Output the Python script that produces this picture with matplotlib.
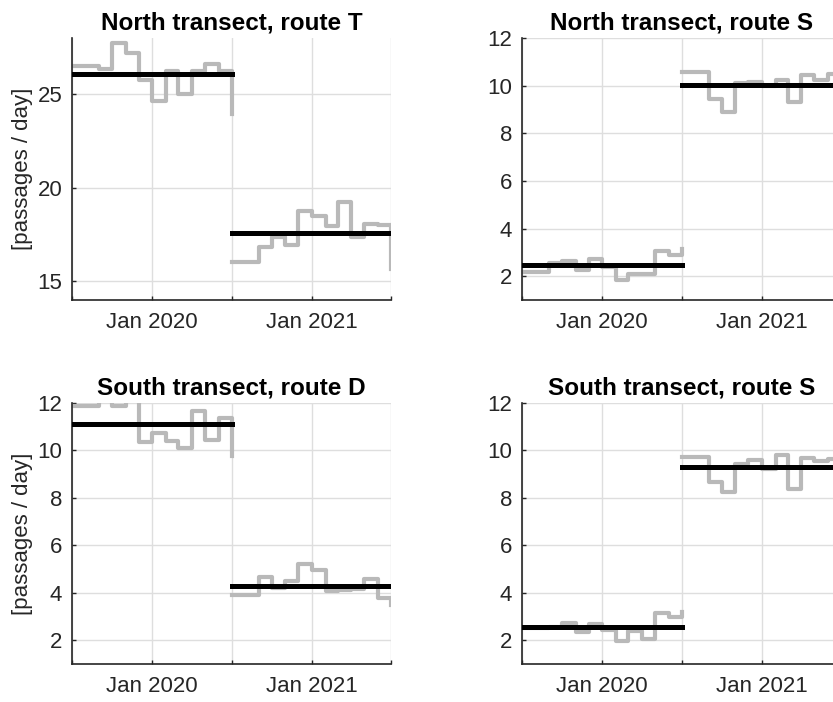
import numpy as np
import matplotlib

matplotlib.use("Agg")
import matplotlib.pyplot as plt
import matplotlib.dates as mdates

plt.rcParams["font.family"] = ["Liberation Sans", "DejaVu Sans"]

# monthly passage rates, Jul 2019 .. Jul 2020 and Jul 2020 .. Jul 2021
months_before = np.arange("2019-07", "2020-08", dtype="datetime64[M]")
months_after = np.arange("2020-07", "2021-08", dtype="datetime64[M]")

north_t_before = [26.51, 26.51, 26.33, 27.75, 27.22, 25.75, 24.64, 26.24, 25.03, 26.24, 26.60, 26.21, 23.93]
north_t_after = [16.01, 16.01, 16.85, 17.34, 16.94, 18.73, 18.50, 17.97, 19.21, 17.34, 18.06, 18.01, 15.66]
north_t_means = [26.05, 17.56]

north_s_before = [2.17, 2.17, 2.55, 2.62, 2.24, 2.73, 2.38, 1.85, 2.10, 2.10, 3.04, 2.91, 3.15]
north_s_after = [10.57, 10.57, 9.45, 8.89, 10.11, 10.15, 9.97, 10.22, 9.31, 10.43, 10.25, 10.50, 10.40]
north_s_means = [2.45, 10.01]

south_d_before = [11.86, 11.86, 12.30, 11.86, 12.20, 10.35, 10.74, 10.40, 10.12, 11.65, 10.45, 11.37, 9.75]
south_d_after = [3.92, 3.92, 4.67, 4.20, 4.49, 5.23, 4.95, 4.06, 4.13, 4.18, 4.58, 3.78, 3.50]
south_d_means = [11.11, 4.28]

south_s_before = [2.52, 2.52, 2.55, 2.73, 2.35, 2.68, 2.43, 1.96, 2.40, 2.05, 3.17, 2.98, 3.20]
south_s_after = [9.73, 9.73, 8.65, 8.23, 9.41, 9.59, 9.21, 9.80, 8.37, 9.69, 9.55, 9.62, 9.50]
south_s_means = [2.56, 9.31]

titles = ["North transect, route T", "North transect, route S",
          "South transect, route D", "South transect, route S"]
y_limits = [(14, 28), (1, 12), (1, 12), (1, 12)]
y_ticks = [[15, 20, 25], [2, 4, 6, 8, 10, 12], [2, 4, 6, 8, 10, 12], [2, 4, 6, 8, 10, 12]]
x_ticks = np.array(["2019-07-01", "2020-01-01", "2020-07-01", "2021-01-01", "2021-07-01"], dtype="datetime64[D]")
x_tick_labels = ["", "Jan 2020", "", "Jan 2021", ""]

series = [
    (north_t_before, north_t_after, north_t_means),
    (north_s_before, north_s_after, north_s_means),
    (south_d_before, south_d_after, south_d_means),
    (south_s_before, south_s_after, south_s_means),
]

W, H = 833, 702
fig = plt.figure(figsize=(W / 100, H / 100), dpi=100)

# pixel boxes (left, top, right, bottom); right column runs past the canvas edge
boxes = [(72, 38, 391, 300), (522, 38, 841, 300),
         (72, 403, 391, 664), (522, 403, 841, 664)]

for i, ((before, after, means), box) in enumerate(zip(series, boxes)):
    l, t, r, b = box
    ax = fig.add_axes([l / W, 1 - b / H, (r - l) / W, (b - t) / H])
    ax.step(months_before, before, where="post", color="#b9b9b9", lw=3.0, zorder=2)
    ax.step(months_after, after, where="post", color="#b9b9b9", lw=3.0, zorder=2)
    ax.plot([months_before[0], months_before[-1]], [means[0], means[0]], color="black", lw=3.6, zorder=3)
    ax.plot([months_after[0], months_after[-1]], [means[1], means[1]], color="black", lw=3.6, zorder=3)

    ax.set_xlim(np.datetime64("2019-07-01"), np.datetime64("2021-07-01"))
    ax.set_ylim(*y_limits[i])
    ax.set_xticks(x_ticks)
    ax.set_xticklabels(x_tick_labels)
    ax.set_yticks(y_ticks[i])
    ax.grid(True, color="#dedede", lw=1.0, zorder=0)
    ax.set_axisbelow(True)
    for side in ("top", "right"):
        ax.spines[side].set_visible(False)
    for side in ("left", "bottom"):
        ax.spines[side].set_color("#262626")
        ax.spines[side].set_linewidth(1.2)
    ax.tick_params(direction="in", length=3, width=1, color="#262626",
                   labelcolor="#262626", labelsize=16)
    ax.tick_params(axis="x", pad=9)
    ax.tick_params(axis="y", pad=7)
    ax.set_title(titles[i], fontsize=17.5, fontweight="bold", pad=6)
    if i % 2 == 0:
        ax.set_ylabel("[passages / day]", fontsize=16, color="#262626")
        ax.yaxis.set_label_coords(-0.122, 0.5)

fig.savefig("out.png", dpi=100)
